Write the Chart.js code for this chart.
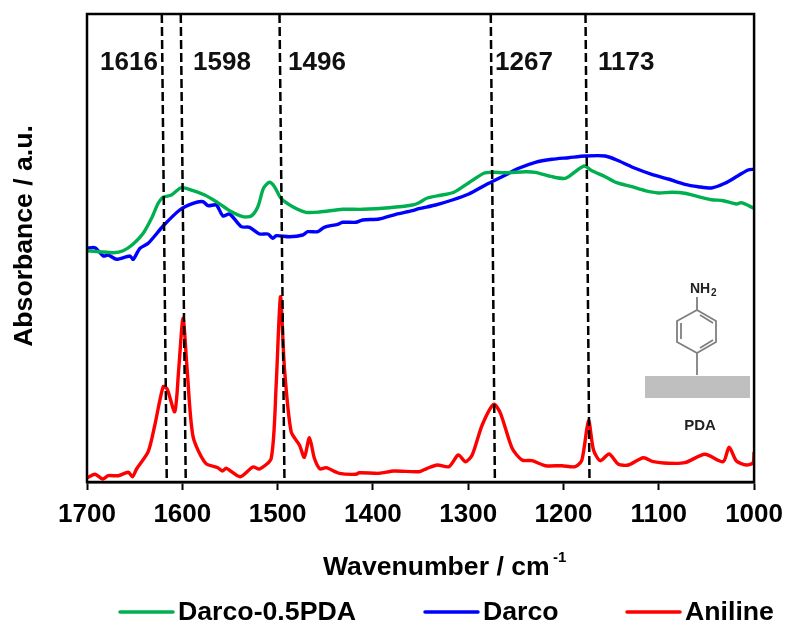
<!DOCTYPE html>
<html>
<head>
<meta charset="utf-8">
<title>Absorbance spectra</title>
<script src="https://cdn.jsdelivr.net/npm/chart.js@4"></script>
<style>
  body { margin: 0; background: #fff; }
  canvas { display: block; }
</style>
</head>
<body>
<canvas id="myCanvas" width="792" height="627"></canvas>
<script>
const xTicks = [1700, 1600, 1500, 1400, 1300, 1200, 1100, 1000];
const seriesNames = ['Darco-0.5PDA', 'Darco', 'Aniline'];
const seriesColors = ['#00b050', '#0000ff', '#ff0000'];

const darcoPdaWave = [1700.3, 1686.4, 1672.4, 1662, 1651.5, 1641, 1632.3, 1625.3, 1620.1, 1611.4, 1600.9, 1588.7, 1576.5, 1564.3, 1550.3, 1536.4, 1527.7, 1520.7, 1514.8, 1508.5, 1503.3, 1496.3, 1484.1, 1470.1, 1456.2, 1431.7, 1410.8, 1382.9, 1358.5, 1351.6, 1342.9, 1327.2, 1315, 1299.3, 1283.6, 1274.9, 1260.9, 1240, 1229.5, 1212, 1198.1, 1187.7, 1178.2, 1170.2, 1156.3, 1144.1, 1128.4, 1114.4, 1100.5, 1086.5, 1072.6, 1058.6, 1044.7, 1032.5, 1018.5, 1013.3, 1000];
const darcoPdaAbs = [231.3, 230.3, 229.3, 231.3, 238, 248.7, 263.7, 278.7, 284.7, 287, 294.3, 291.3, 287, 280.3, 271.3, 265.3, 266, 275.3, 293.7, 299.7, 295.3, 283.7, 275.3, 269.7, 270, 272.7, 272.7, 274.3, 277, 279.3, 284, 287, 289.7, 299.3, 308.7, 309.7, 309.3, 310.3, 309.7, 305.3, 303.7, 310.3, 316, 311.3, 305.3, 299.3, 295.3, 291.3, 289, 289.7, 288.7, 285.3, 282.3, 281.3, 278, 279.3, 273.7];

const darcoWave = [1700.3, 1691.6, 1682.9, 1677.7, 1668.9, 1655, 1651.5, 1644.5, 1635.8, 1620.1, 1602.7, 1588.7, 1578.2, 1573, 1564.3, 1557.3, 1550.3, 1538.1, 1529.4, 1519, 1510.2, 1505, 1501.5, 1487.6, 1473.6, 1468.4, 1457.9, 1451, 1437, 1431.8, 1417.8, 1410.8, 1393.4, 1375.9, 1358.5, 1351.6, 1334.2, 1316.7, 1299.3, 1281.8, 1264.4, 1247, 1229.5, 1212, 1194.6, 1177.2, 1156.3, 1142.3, 1124.9, 1107.4, 1090, 1072.6, 1058.6, 1044.7, 1030.7, 1016.8, 1006.3, 1000];
const darcoAbs = [233.7, 234.3, 226, 227, 222.7, 226, 222.7, 233.7, 238.7, 256, 272, 278.7, 280.3, 276.3, 277, 266, 268, 255.3, 254.7, 248, 248, 243.7, 246.3, 245.3, 247, 250.3, 250.3, 254.7, 257.7, 259.7, 259.7, 262, 263, 267.7, 271.3, 273.3, 277, 282, 288, 297, 305.3, 313.7, 319.7, 322.7, 324.3, 326, 326, 321.3, 313.7, 307.7, 303, 297.7, 295.3, 294, 298.7, 306.3, 312, 312.7];

const anilineWave = [1699.6, 1691.6, 1683.6, 1677.7, 1667.2, 1656.7, 1652.2, 1648, 1635.8, 1628.8, 1620.1, 1615.9, 1607.9, 1603.7, 1599.2, 1595, 1588.7, 1575.5, 1562.6, 1558, 1553.8, 1539.2, 1525.9, 1519, 1506.7, 1501.5, 1497, 1492.8, 1485.8, 1477.1, 1471.9, 1466.6, 1461.4, 1455.5, 1449.2, 1435.2, 1417.8, 1414.3, 1393.4, 1378, 1351.6, 1342.9, 1332.4, 1320.2, 1310.4, 1302.8, 1295.8, 1285.3, 1273.1, 1266.1, 1253.9, 1243.5, 1233, 1219, 1201.6, 1187.7, 1180.7, 1173.7, 1168.5, 1161.5, 1152.1, 1142.3, 1131.9, 1116.2, 1105.7, 1090, 1072.6, 1051.6, 1032.5, 1026.2, 1018.5, 1008, 1001, 1000];
const anilineAbs = [4.3, 7.7, 3, 6.3, 6.3, 9.7, 5.3, 13, 30.3, 57, 95.3, 93, 70.3, 113.7, 163.7, 113.7, 45.3, 18.7, 14.3, 11, 13.7, 5.3, 15, 13, 23.7, 97, 185.3, 113.7, 50.3, 37, 24.7, 44.3, 23.7, 13, 14.3, 8.7, 7.7, 9.3, 8.7, 11, 10.3, 13.7, 17, 15.3, 27, 20.3, 27, 57, 77.7, 68.7, 33.7, 22, 21.3, 16.3, 16.3, 15.3, 22, 61.3, 32, 21.3, 28, 17.7, 17, 24.3, 20.3, 18.7, 19.3, 27.7, 20.3, 34.7, 21, 17, 19.3, 30];

const peakLabels = ['1616', '1598', '1496', '1267', '1173'];
const peakTopWave = [1621.5, 1601.6, 1498, 1276.3, 1176.9];
const peakBottomWave = [1616.3, 1596.4, 1492.8, 1272, 1172.7];
const peakLabelPx = [100, 193, 288, 495, 598];

const boldFont = 'bold 26px "Liberation Sans"';
const titleFont = 'bold 26.6px "Liberation Sans"';

function toPoints(waves, values) {
    return waves.map((w, i) => ({ x: w, y: values[i] }));
}

function spectrum(i, waves, values) {
    return {
        label: seriesNames[i],
        data: toPoints(waves, values),
        borderColor: seriesColors[i],
        borderWidth: 3.4,
        pointRadius: 0,
        tension: 0.25,
        order: 2
    };
}

const peakSets = peakLabels.map((name, i) => ({
    label: name,
    data: [{ x: peakTopWave[i], y: 468 }, { x: peakBottomWave[i], y: 1 }],
    borderColor: '#000',
    borderWidth: 2.5,
    borderDash: [9, 4],
    pointRadius: 0,
    order: 1
}));

const decorations = {
    id: 'decorations',
    afterDraw(chart) {
        const ctx = chart.ctx;
        const area = chart.chartArea;

        // frame
        ctx.save();
        ctx.strokeStyle = '#000';
        ctx.lineWidth = 2.5;
        ctx.strokeRect(area.left, area.top, area.right - area.left, area.bottom - area.top);

        // peak numbers
        ctx.fillStyle = '#111';
        ctx.font = boldFont;
        ctx.textBaseline = 'middle';
        ctx.textAlign = 'left';
        peakLabels.forEach((text, i) => ctx.fillText(text, peakLabelPx[i], 63));

        // axis titles
        ctx.fillStyle = '#000';
        ctx.font = titleFont;
        ctx.fillText('Wavenumber / cm', 323, 568);
        ctx.font = 'bold 15px "Liberation Sans"';
        ctx.fillText('-1', 553, 558);
        ctx.font = titleFont;
        ctx.save();
        ctx.translate(25, 236);
        ctx.rotate(-Math.PI / 2);
        ctx.textAlign = 'center';
        ctx.fillText('Absorbance / a.u.', 0, 0);
        ctx.restore();

        // legend
        const legendLineX = [120, 425, 627];
        ctx.font = 'bold 26.7px "Liberation Sans"';
        chart.data.datasets.slice(0, 3).forEach((set, i) => {
            ctx.strokeStyle = set.borderColor;
            ctx.lineWidth = 3.5;
            ctx.lineCap = 'round';
            ctx.beginPath();
            ctx.moveTo(legendLineX[i], 612);
            ctx.lineTo(legendLineX[i] + 53, 612);
            ctx.stroke();
            ctx.fillStyle = '#000';
            ctx.fillText(set.label, legendLineX[i] + 58, 613);
        });

        // PDA inset
        ctx.strokeStyle = '#7f7f7f';
        ctx.lineWidth = 1.8;
        ctx.lineCap = 'butt';
        const drawLine = (pts) => {
            ctx.beginPath();
            pts.forEach((p, i) => i ? ctx.lineTo(p[0], p[1]) : ctx.moveTo(p[0], p[1]));
            ctx.stroke();
        };
        drawLine([[697, 310], [716, 321], [716, 342], [697, 353], [677, 342], [677, 321], [697, 310]]);
        drawLine([[681, 323], [681, 339]]);
        drawLine([[700, 315], [713, 323]]);
        drawLine([[700, 348], [713, 340]]);
        drawLine([[697, 297], [697, 310]]);
        drawLine([[697, 353], [697, 375]]);
        ctx.fillStyle = '#bfbfbf';
        ctx.fillRect(645, 376, 105, 22);
        ctx.fillStyle = '#222';
        ctx.font = 'bold 14px "Liberation Sans"';
        ctx.textAlign = 'left';
        ctx.fillText('NH', 690, 289);
        ctx.font = 'bold 10px "Liberation Sans"';
        ctx.fillText('2', 711, 293);
        ctx.font = 'bold 15px "Liberation Sans"';
        ctx.textAlign = 'center';
        ctx.fillText('PDA', 700, 426);
        ctx.restore();
    }
};

new Chart(document.getElementById('myCanvas'), {
    type: 'line',
    data: {
        datasets: [
            spectrum(0, darcoPdaWave, darcoPdaAbs),
            spectrum(1, darcoWave, darcoAbs),
            spectrum(2, anilineWave, anilineAbs)
        ].concat(peakSets)
    },
    options: {
        responsive: false,
        animation: false,
        layout: { padding: { left: 87, right: 33, top: 14, bottom: 0 } },
        plugins: {
            legend: { display: false },
            tooltip: { enabled: false }
        },
        scales: {
            x: {
                type: 'linear',
                reverse: true,
                min: 1000,
                max: 1700,
                afterBuildTicks(scale) {
                    scale.ticks = xTicks.map(v => ({ value: v }));
                },
                afterFit(scale) {
                    scale.height = 145;
                },
                border: { color: '#000', width: 2.5 },
                grid: { drawOnChartArea: false, drawTicks: true, tickLength: 8, tickColor: '#000', tickWidth: 2 },
                ticks: {
                    color: '#000',
                    padding: 9,
                    maxRotation: 0,
                    autoSkip: false,
                    font: { family: '"Liberation Sans"', size: 26, weight: 'bold' },
                    callback: (v) => String(v)
                }
            },
            y: { display: false, min: 0, max: 468 }
        }
    },
    plugins: [decorations]
});
</script>
</body>
</html>
